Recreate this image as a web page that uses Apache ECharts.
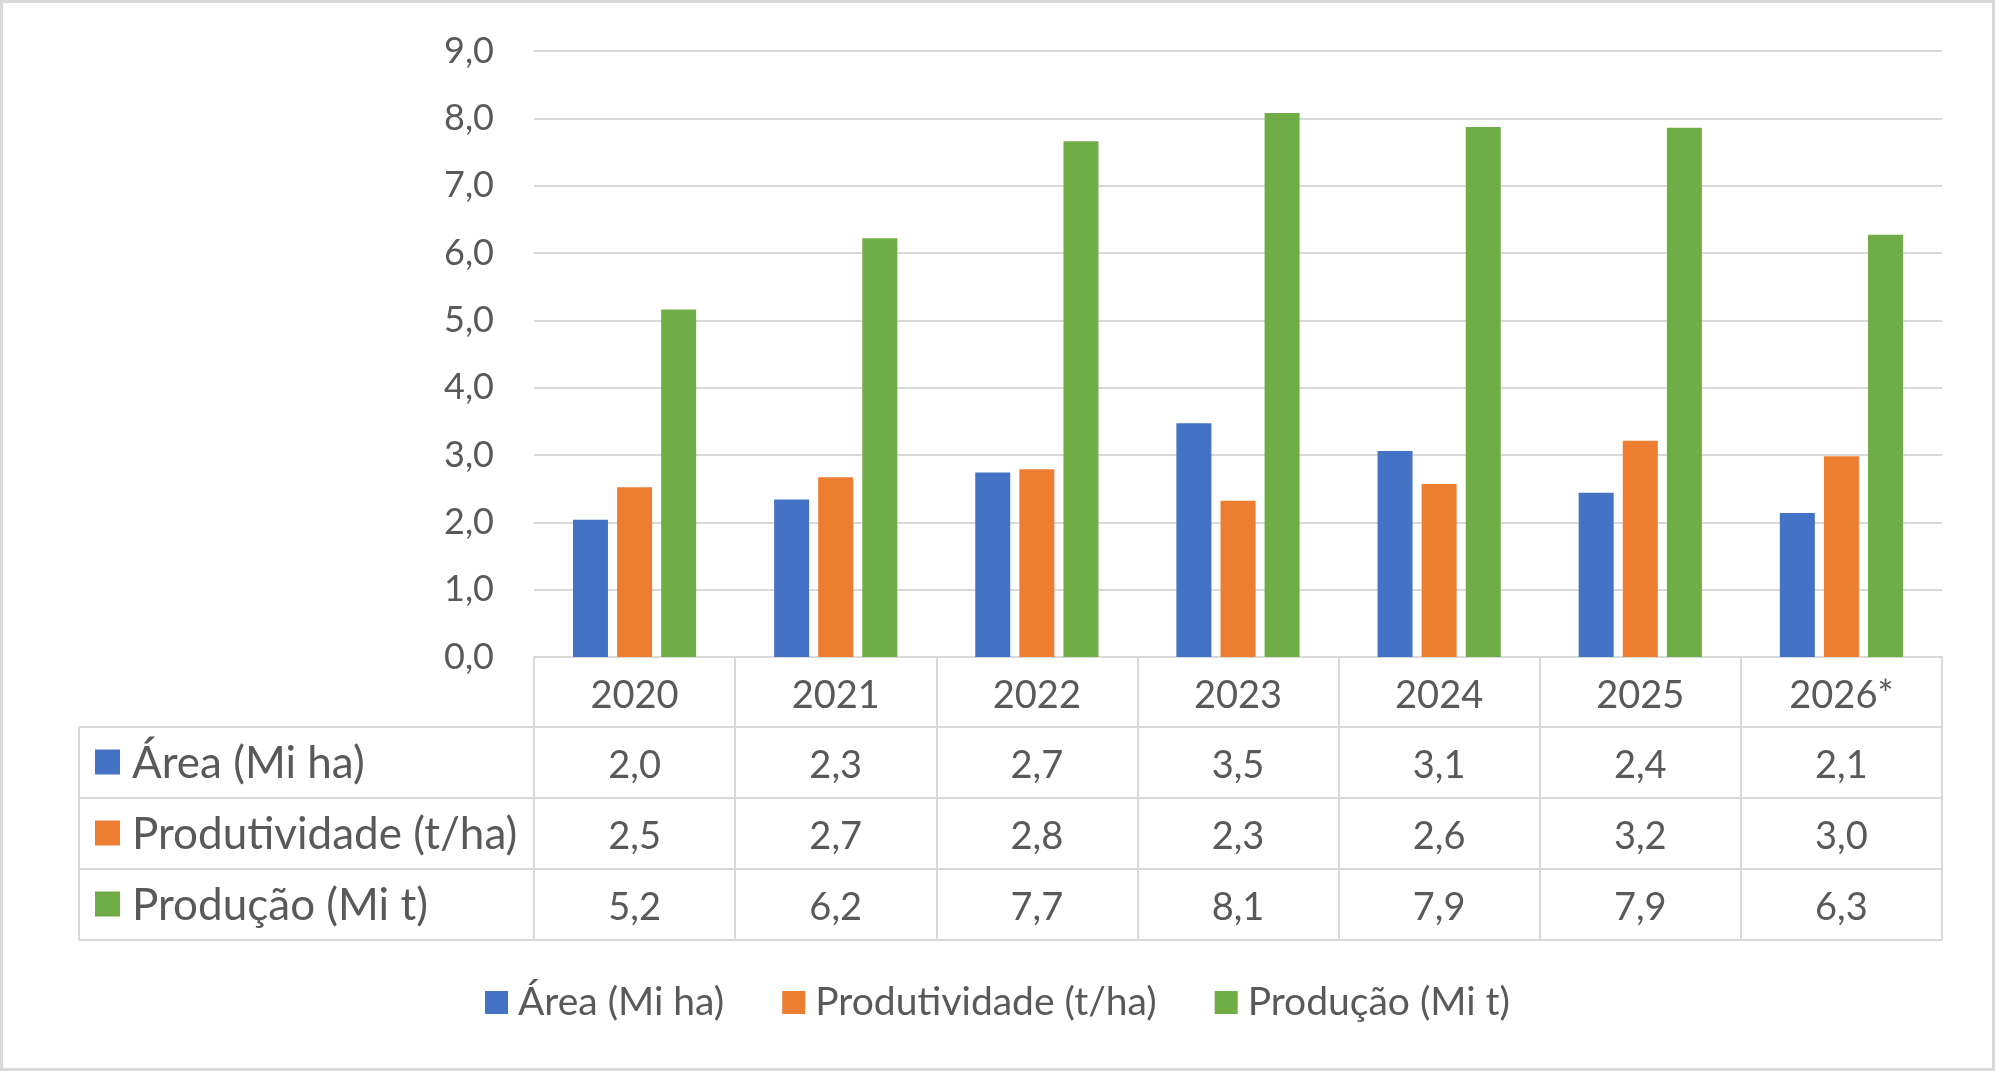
<!DOCTYPE html>
<html>
<head>
<meta charset="utf-8">
<script src="https://cdn.jsdelivr.net/npm/echarts@6/dist/echarts.min.js"></script>
<style>
html,body{margin:0;padding:0;background:#fff;}
#chart{width:1995px;height:1071px;}
</style>
</head>
<body>
<div id="chart"></div>
<script>
// ---- data ----
const years = ['2020', '2021', '2022', '2023', '2024', '2025', '2026*'];
const seriesNames = ['Área (Mi ha)', 'Produtividade (t/ha)', 'Produção (Mi t)'];
const area = [2.04, 2.34, 2.74, 3.47, 3.06, 2.44, 2.14];
const produtividade = [2.52, 2.67, 2.79, 2.32, 2.57, 3.21, 2.98];
const producao = [5.16, 6.22, 7.66, 8.08, 7.87, 7.86, 6.27];
const yTicks = [0, 1, 2, 3, 4, 5, 6, 7, 8, 9];

// ---- styling / layout ----
const colors = ['#4472C4', '#ED7D31', '#70AD47'];
const txt = '#595959';
const lineC = '#D9D9D9';
const FONT = 'Lato, "Open Sans", sans-serif';
const gridLeft = 534, gridRight = 1942, gridTop = 51, axisY = 657;
const rowEdges = [657, 727, 798, 869, 940];
const tableLeft = 79;

const fmt = v => v.toFixed(1).replace('.', ',');
const allSeries = [area, produtividade, producao];

const chart = echarts.init(document.getElementById('chart'), null, {renderer: 'canvas'});

const xAxes = [{
  type: 'category',
  data: years,
  position: 'bottom',
  axisLine: {show: true, lineStyle: {color: lineC, width: 2}},
  axisTick: {show: true, length: rowEdges[4] - rowEdges[0], lineStyle: {color: lineC, width: 2}},
  axisLabel: {
    interval: 0, margin: 4, color: txt, fontFamily: FONT, fontSize: 38,
    lineHeight: rowEdges[1] - rowEdges[0], verticalAlign: 'top'
  }
}];
allSeries.forEach((vals, i) => {
  xAxes.push({
    type: 'category',
    data: vals.map(fmt),
    position: 'bottom',
    offset: rowEdges[i + 1] - rowEdges[0],
    axisLine: {show: false},
    axisTick: {show: false},
    splitLine: {show: false},
    axisLabel: {
      interval: 0, margin: 3, color: txt, fontFamily: FONT, fontSize: 38,
      lineHeight: rowEdges[i + 2] - rowEdges[i + 1], verticalAlign: 'top'
    }
  });
});

const graphics = [
  {type: 'rect', shape: {x: 1.5, y: 1.5, width: 1992, height: 1068},
   style: {fill: 'none', stroke: lineC, lineWidth: 3}, silent: true},
  {type: 'line', shape: {x1: tableLeft, y1: rowEdges[1], x2: tableLeft, y2: rowEdges[4]},
   style: {stroke: lineC, lineWidth: 2}, silent: true}
];
for (let r = 1; r < rowEdges.length; r++) {
  graphics.push({type: 'line', shape: {x1: tableLeft, y1: rowEdges[r], x2: gridRight, y2: rowEdges[r]},
    style: {stroke: lineC, lineWidth: 2}, silent: true});
}
seriesNames.forEach((name, i) => {
  const cy = (rowEdges[i + 1] + rowEdges[i + 2]) / 2;
  graphics.push({type: 'rect', shape: {x: 95, y: cy - 13, width: 25, height: 25},
    style: {fill: colors[i]}, silent: true});
  graphics.push({type: 'text', x: 132, y: cy + 1,
    style: {text: name, fill: txt, fontFamily: FONT, fontSize: 44,
      verticalAlign: 'middle', textVerticalAlign: 'middle', align: 'left'}, silent: true});
});

chart.setOption({
  animation: false,
  backgroundColor: '#ffffff',
  color: colors,
  grid: {left: gridLeft, right: 1995 - gridRight, top: gridTop, bottom: 1071 - axisY, containLabel: false},
  legend: {
    data: seriesNames,
    left: 'center',
    top: 978,
    icon: 'rect',
    itemWidth: 23,
    itemHeight: 23,
    itemGap: 58,
    textStyle: {color: txt, fontFamily: FONT, fontSize: 39, padding: [0, 0, 0, 5]}
  },
  xAxis: xAxes,
  yAxis: {
    type: 'value',
    min: yTicks[0],
    max: yTicks[yTicks.length - 1],
    interval: 1,
    axisLine: {show: false},
    axisTick: {show: false},
    splitLine: {lineStyle: {color: lineC, width: 2}},
    axisLabel: {color: txt, fontFamily: FONT, fontSize: 36, margin: 40, formatter: v => fmt(v)}
  },
  series: allSeries.map((vals, i) => ({
    name: seriesNames[i],
    type: 'bar',
    xAxisIndex: 0,
    data: vals,
    barWidth: 35,
    barGap: '26%',
    itemStyle: {color: colors[i]}
  })),
  graphic: graphics
});
</script>
</body>
</html>
